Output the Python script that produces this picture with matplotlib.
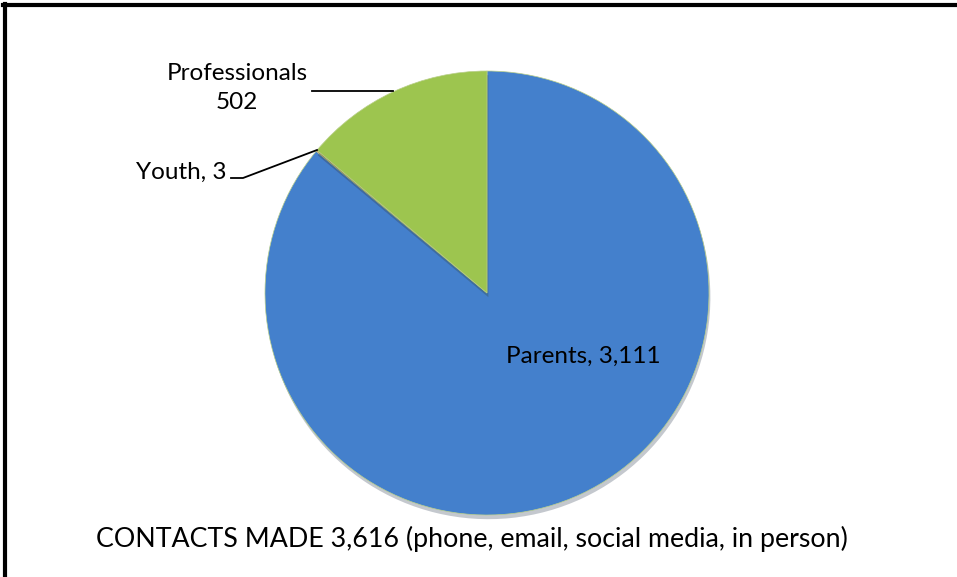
import matplotlib.pyplot as plt
import matplotlib.patheffects as pe
from matplotlib.lines import Line2D

plt.rcParams['font.family'] = ['Lato', 'DejaVu Sans']

# data
groups = ['Parents', 'Youth', 'Professionals']
contacts = [3111, 3, 502]
total = 3616
colors = ['#4480CC', '#C0504D', '#9DC54F']

W, H = 957, 577
fig = plt.figure(figsize=(W / 100, H / 100), dpi=100)
ax = fig.add_axes([0, 0, 1, 1])

cx, cy, r = 487, H - 293, 222

wedges, _ = ax.pie(contacts, colors=colors, startangle=90, counterclock=False,
                   center=(cx, cy), radius=r, frame=True,
                   wedgeprops=dict(edgecolor='#b9cf8a', linewidth=0.5))
for w in wedges:
    w.set_path_effects([pe.SimplePatchShadow(offset=(1, -3), alpha=0.25), pe.Normal()])
ax.set_xlim(0, W)
ax.set_ylim(0, H)
ax.set_aspect('equal')
ax.axis('off')

# labels
ax.text(583, H - 356, '{}, {:,}'.format(groups[0], contacts[0]), ha='center', va='center', fontsize=17.5)
ax.text(227, H - 172, '{}, {}'.format(groups[1], contacts[1]), ha='right', va='center', fontsize=17.5)
ax.text(237, H - 88, '{}\n{}'.format(groups[2], contacts[2]), ha='center', va='center',
        fontsize=17.5, linespacing=1.5)

# leader lines
ax.plot([231, 243, 317], [H - 178, H - 178, H - 150], color='black', lw=1.3)
ax.plot([312, 393], [H - 91, H - 91], color='black', lw=1.3)

ax.text(472, H - 539, 'CONTACTS MADE {:,} (phone, email, social media, in person)'.format(total),
        ha='center', va='center', fontsize=19.3)

# frame lines (top and left)
fig.add_artist(Line2D([3, W], [H - 5, H - 5], transform=None, color='black', lw=3))
fig.add_artist(Line2D([5, 5], [0, H - 4], transform=None, color='black', lw=3))

fig.savefig('out.png', dpi=100)
